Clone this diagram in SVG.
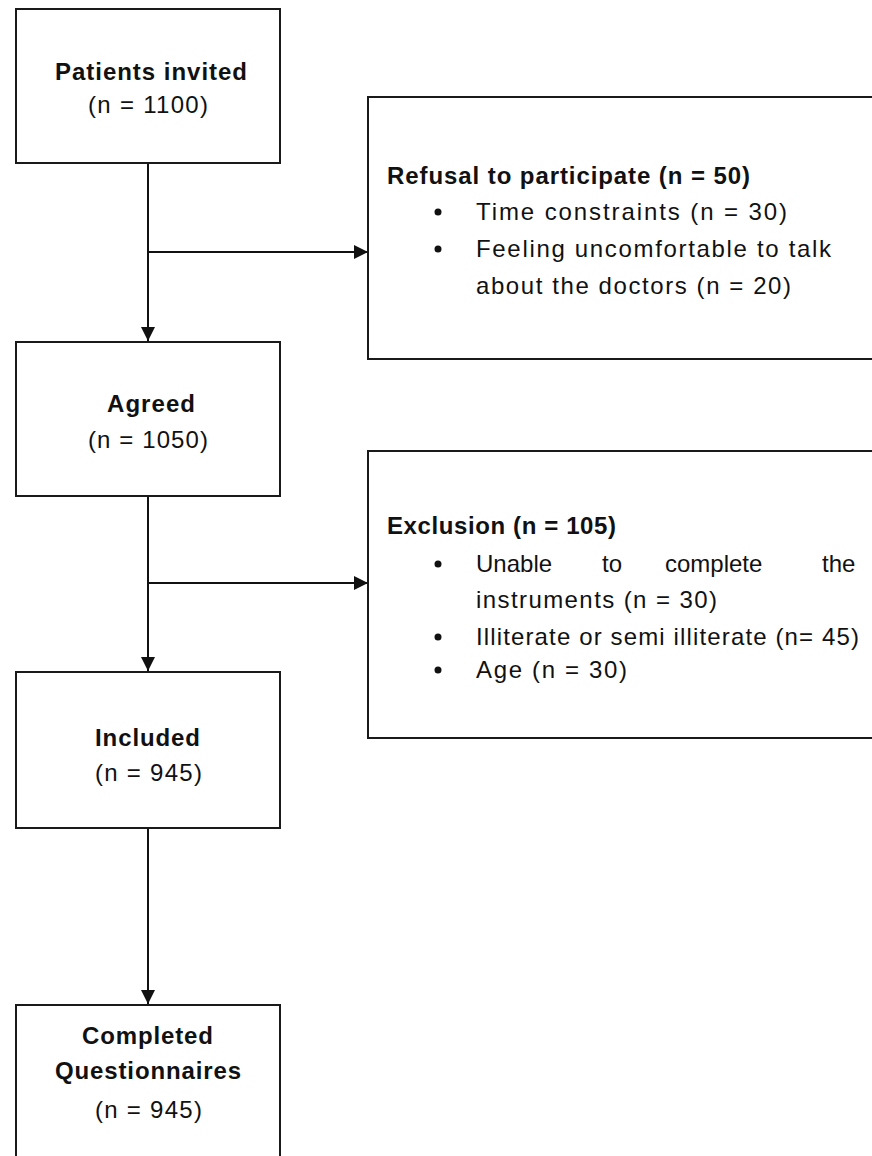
<svg xmlns="http://www.w3.org/2000/svg" width="872" height="1156" viewBox="0 0 872 1156">
<style>
.box{fill:#fff;stroke:#1a1a1a;stroke-width:2}
.t{font-family:"Liberation Sans",Arial,sans-serif;font-size:24px;fill:#111}
.b{font-weight:bold}
.con{stroke:#111;stroke-width:2;fill:none}
.dot{fill:#111}
</style>
<defs>
<marker id="arr" viewBox="0 0 10 10" refX="10" refY="5" markerWidth="7" markerHeight="7" orient="auto" markerUnits="strokeWidth">
<path d="M0,0 L10,5 L0,10 z" fill="#111"/>
</marker>
</defs>
<rect width="872" height="1156" fill="#fff"/>
<g id="connectors">
<line class="con" x1="148" y1="163" x2="148" y2="341" marker-end="url(#arr)"/>
<line class="con" x1="148" y1="252" x2="368" y2="252" marker-end="url(#arr)"/>
<line class="con" x1="148" y1="496" x2="148" y2="671" marker-end="url(#arr)"/>
<line class="con" x1="148" y1="583" x2="368" y2="583" marker-end="url(#arr)"/>
<line class="con" x1="148" y1="828" x2="148" y2="1004" marker-end="url(#arr)"/>
</g>
<g id="invited">
<rect class="box" x="16" y="9" width="264" height="154"/>
<text class="t b" x="55" y="80" textLength="192">Patients invited</text>
<text class="t" x="88" y="113" textLength="120">(n = 1100)</text>
</g>
<g id="refusal">
<rect class="box" x="368" y="97" width="520" height="262"/>
<text class="t b" x="387" y="184" textLength="363">Refusal to participate (n = 50)</text>
<circle class="dot" cx="438" cy="212" r="3.5"/>
<text class="t" x="476" y="220" textLength="311">Time constraints (n = 30)</text>
<circle class="dot" cx="438" cy="249" r="3.5"/>
<text class="t" x="476" y="257" textLength="355">Feeling uncomfortable to talk</text>
<text class="t" x="476" y="294" textLength="315">about the doctors (n = 20)</text>
</g>
<g id="agreed">
<rect class="box" x="16" y="342" width="264" height="154"/>
<text class="t b" x="107" y="412" textLength="88">Agreed</text>
<text class="t" x="88" y="448" textLength="120">(n = 1050)</text>
</g>
<g id="exclusion">
<rect class="box" x="368" y="451" width="520" height="287"/>
<text class="t b" x="387" y="534" textLength="229">Exclusion (n = 105)</text>
<circle class="dot" cx="438" cy="564" r="3.5"/>
<text class="t" y="572"><tspan x="476">Unable</tspan><tspan x="602">to</tspan><tspan x="665">complete</tspan><tspan x="822">the</tspan></text>
<text class="t" x="476" y="608" textLength="241">instruments (n = 30)</text>
<circle class="dot" cx="438" cy="637" r="3.5"/>
<text class="t" x="476" y="645" textLength="383">Illiterate or semi illiterate (n= 45)</text>
<circle class="dot" cx="438" cy="670" r="3.5"/>
<text class="t" x="476" y="678" textLength="151">Age (n = 30)</text>
</g>
<g id="included">
<rect class="box" x="16" y="672" width="264" height="156"/>
<text class="t b" x="95" y="746" textLength="105">Included</text>
<text class="t" x="95" y="781" textLength="107">(n = 945)</text>
</g>
<g id="completed">
<rect class="box" x="16" y="1005" width="264" height="170"/>
<text class="t b" x="82" y="1044" textLength="131">Completed</text>
<text class="t b" x="55" y="1079" textLength="186">Questionnaires</text>
<text class="t" x="95" y="1118" textLength="107">(n = 945)</text>
</g>
</svg>
